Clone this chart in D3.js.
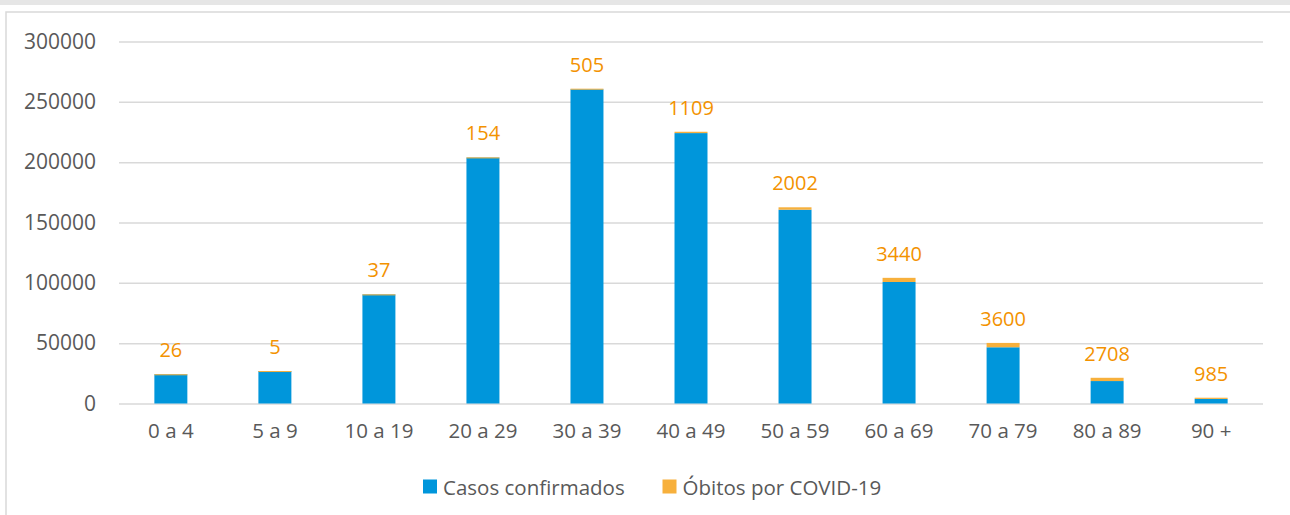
<!DOCTYPE html>
<html>
<head>
<meta charset="utf-8">
<script src="https://cdn.jsdelivr.net/npm/d3@7"></script>
<style>
  html, body { margin: 0; padding: 0; background: #fff; }
  body { width: 1290px; height: 515px; overflow: hidden; font-family: "Open Sans", "Noto Sans", sans-serif; }
</style>
</head>
<body>
<div id="chart"></div>
<script>
// faixas etárias
const faixas = ['0 a 4', '5 a 9', '10 a 19', '20 a 29', '30 a 39', '40 a 49', '50 a 59', '60 a 69', '70 a 79', '80 a 89', '90 +'];
// casos confirmados
const casos = [24200, 26900, 90400, 203800, 260400, 224100, 160600, 100700, 46600, 18600, 3800];
// óbitos por COVID-19
const obitos = [26, 5, 37, 154, 505, 1109, 2002, 3440, 3600, 2708, 985];
const yTicks = [0, 50000, 100000, 150000, 200000, 250000, 300000];
const legenda = ['Casos confirmados', 'Óbitos por COVID-19'];

const W = 1290, H = 515;
const margin = { top: 41.5, right: 27, bottom: 111.5, left: 119 };
const width = W - margin.left - margin.right;
const height = H - margin.top - margin.bottom;

const corCasos = '#0096db';
const corObitos = '#f7b03c';
const corRotulo = '#f39200';
const corTexto = '#595959';

const svg = d3.select('#chart').append('svg')
    .attr('width', W).attr('height', H);

// faixa cinza do topo e moldura
svg.append('rect').attr('x', 0).attr('y', 0).attr('width', W).attr('height', 5).attr('fill', '#e6e6e6');
svg.append('rect').attr('x', 6).attr('y', 12).attr('width', W + 10).attr('height', H + 10)
    .attr('fill', 'none').attr('stroke', '#d9d9d9').attr('stroke-width', 1.5);

const g = svg.append('g').attr('transform', `translate(${margin.left},${margin.top})`);

const x = d3.scaleBand().domain(faixas).range([0, width]).paddingInner(0.683).paddingOuter(0.34);
const y = d3.scaleLinear().domain([0, 300000]).range([height, 0]);

// grade
g.append('g')
    .call(d3.axisLeft(y).tickValues(yTicks).tickSize(-width).tickPadding(23).tickFormat(d3.format('d')))
    .call(s => s.select('.domain').remove())
    .call(s => s.selectAll('.tick line').attr('stroke', '#d9d9d9').attr('stroke-width', 1.5))
    .call(s => s.selectAll('.tick text').attr('fill', corTexto).style('font-size', '21px')
        .style('font-family', '"Open Sans", "Noto Sans", sans-serif'));

const dados = faixas.map((f, i) => ({ faixa: f, casos: casos[i], obitos: obitos[i] }));

// barras empilhadas
g.selectAll('rect.casos').data(dados).enter().append('rect')
    .attr('class', 'casos')
    .attr('x', d => x(d.faixa))
    .attr('width', x.bandwidth())
    .attr('y', d => y(d.casos))
    .attr('height', d => y(0) - y(d.casos))
    .attr('fill', corCasos);

g.selectAll('rect.obitos').data(dados).enter().append('rect')
    .attr('class', 'obitos')
    .attr('x', d => x(d.faixa))
    .attr('width', x.bandwidth())
    .attr('y', d => y(d.casos + d.obitos))
    .attr('height', d => Math.max(1, y(d.casos) - y(d.casos + d.obitos)))
    .attr('fill', corObitos);

// rótulos de óbitos
g.selectAll('text.rotulo').data(dados).enter().append('text')
    .attr('class', 'rotulo')
    .attr('x', d => x(d.faixa) + x.bandwidth() / 2)
    .attr('y', d => y(d.casos + d.obitos) - 17)
    .attr('text-anchor', 'middle')
    .attr('fill', corRotulo)
    .style('font-size', '20px')
    .text(d => d.obitos);

// eixo x
g.append('g').attr('transform', `translate(0,${height})`)
    .call(d3.axisBottom(x).tickSize(0).tickPadding(20))
    .call(s => s.select('.domain').remove())
    .call(s => s.selectAll('.tick text').attr('fill', corTexto).style('font-size', '20.5px')
        .style('font-family', '"Open Sans", "Noto Sans", sans-serif'));

// legenda
const leg = svg.append('g').attr('transform', 'translate(423,479.5)');
const itens = [
    { nome: legenda[0], cor: corCasos, x: 0 },
    { nome: legenda[1], cor: corObitos, x: 239.5 }
];
itens.forEach(it => {
    leg.append('rect').attr('x', it.x).attr('y', 0).attr('width', 14).attr('height', 14).attr('fill', it.cor);
    leg.append('text').attr('x', it.x + 20).attr('y', 15)
        .attr('fill', corTexto).style('font-size', '20.5px').text(it.nome);
});
</script>
</body>
</html>
